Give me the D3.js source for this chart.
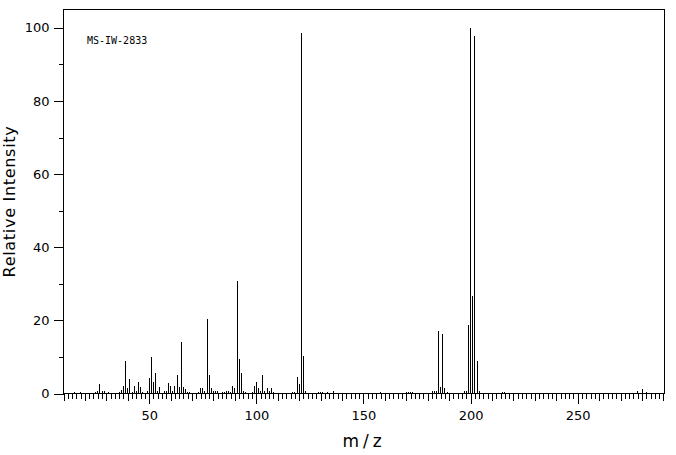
<!DOCTYPE html>
<html><head><meta charset="utf-8">
<script src="https://cdn.jsdelivr.net/npm/d3@7"></script>
<style>body{margin:0;background:#fff}svg{display:block}</style>
</head><body><svg id="c" width="676" height="455"></svg>
<script>
const mz = [15,18,25,26,27,28,29,31,36,37,38,39,40,41,42,43,44,45,46,47,49,50,51,52,53,54,55,57,58,59,60,61,62,63,64,65,66,67,68,69,73,74,75,76,77,78,79,80,81,82,84,85,86,87,88,89,90,91,92,93,94,95,98,99,100,101,102,103,104,105,106,107,108,117,118,119,120,121,122,123,129,130,131,133,136,158,170,171,172,173,182,183,184,185,186,187,188,189,197,198,199,200,201,202,203,204,215,216,278,280,282];
const intensity = [0.3,0.3,0.3,0.6,2.6,0.6,0.6,0.3,0.3,0.9,2.0,8.9,1.4,4.0,0.3,2.0,0.8,3.1,1.7,0.3,0.6,4.2,10.0,3.1,5.6,0.6,1.7,0.6,0.8,2.8,2.0,0.8,2.0,5.0,1.7,14.1,1.7,1.2,0.3,0.3,0.5,1.4,1.4,0.8,20.4,5.0,1.4,0.6,0.6,0.6,0.3,0.3,0.6,0.6,0.3,2.0,1.4,30.8,9.4,5.7,0.8,0.3,0.3,2.0,3.1,1.4,0.8,5.0,0.6,1.4,0.6,1.4,0.3,0.3,0.3,4.5,2.6,98.5,10.3,0.6,0.3,0.3,0.3,0.3,0.6,0.3,0.3,0.3,0.3,0.3,0.6,0.6,0.6,17.1,1.7,16.3,1.4,0.3,0.6,0.6,18.7,100,26.7,97.8,8.9,0.6,0.3,0.5,0.6,1.1,0.5];
const xMajorTicks = [50,100,150,200,250];
const xMediumTicks = d3.range(10, 291, 10);
const xMinorTicks = d3.range(10, 291, 2);
const yMajorTicks = [0,20,40,60,80,100];
const yMinorTicks = [10,30,50,70,90];
const sampleLabel = "MS-IW-2833";
const xTitle = "m/z";
const yTitle = "Relative Intensity";

const L = 63.5, R = 664.5, T = 9.5, B = 393.5;
const svg = d3.select("#c");
const x = d3.scaleLinear().domain([10, 290.5]).range([L, R]);
const y = d3.scaleLinear().domain([0, 105]).range([B, T]);
const font = "'DejaVu Sans', sans-serif";

// peaks
svg.append("g").selectAll("line").data(mz.map((m,i)=>({m, v:intensity[i]})))
  .join("line")
  .attr("x1", d => Math.round(x(d.m)-0.5)+0.5)
  .attr("x2", d => Math.round(x(d.m)-0.5)+0.5)
  .attr("y1", B).attr("y2", d => y(d.v))
  .attr("stroke", "#000").attr("stroke-width", 1)
  .attr("shape-rendering", "crispEdges");

function styleAxis(g) {
  g.select(".domain").remove();
  g.selectAll("line").attr("stroke", "#000").attr("shape-rendering", "crispEdges");
  g.selectAll("text").attr("font-family", font).attr("font-size", 13).attr("fill", "#000");
}
const xg = svg.append("g").attr("transform", `translate(0,${B})`);
xg.append("g").call(d3.axisBottom(x).tickValues(xMinorTicks).tickSize(5).tickFormat("")).call(styleAxis);
xg.append("g").call(d3.axisBottom(x).tickValues(xMediumTicks).tickSize(7).tickFormat("")).call(styleAxis);
xg.append("g").call(d3.axisBottom(x).tickValues(xMajorTicks).tickSize(10).tickPadding(7).tickFormat(d3.format("d"))).call(styleAxis);

const yg = svg.append("g").attr("transform", `translate(${L},0)`);
yg.append("g").call(d3.axisLeft(y).tickValues(yMinorTicks).tickSize(5).tickFormat("")).call(styleAxis);
yg.append("g").call(d3.axisLeft(y).tickValues(yMajorTicks).tickSize(10).tickPadding(4).tickFormat(d3.format("d"))).call(styleAxis);

// frame
svg.append("rect").attr("x", L).attr("y", T).attr("width", R-L).attr("height", B-T)
  .attr("fill", "none").attr("stroke", "#000").attr("shape-rendering", "crispEdges");

// sample label
svg.append("text").attr("x", 87).attr("y", 44).text(sampleLabel)
  .attr("font-family", "'DejaVu Sans Mono', monospace").attr("font-size", 10).attr("fill", "#000");

// axis titles
svg.append("text").attr("x", (L+R)/2).attr("y", 447).attr("text-anchor", "middle")
  .attr("font-family", font).attr("font-size", 17).attr("letter-spacing", 4).attr("fill", "#000").text(xTitle);
svg.append("text").attr("transform", `translate(15,${(T+B)/2}) rotate(-90)`).attr("text-anchor", "middle")
  .attr("font-family", font).attr("font-size", 16).attr("letter-spacing", 0.7).attr("fill", "#000").text(yTitle);
</script></body></html>
